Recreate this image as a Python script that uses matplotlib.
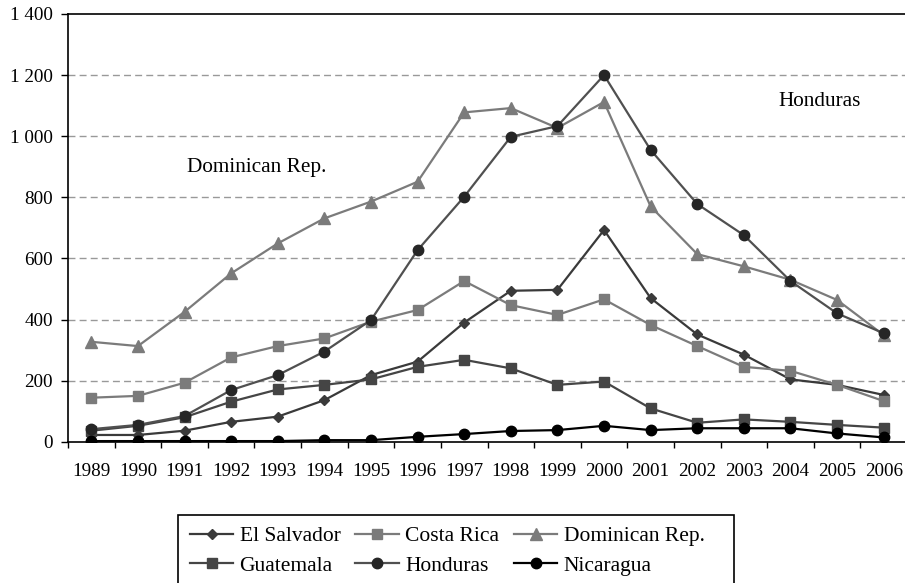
import matplotlib
matplotlib.use("Agg")
import matplotlib.pyplot as plt
from matplotlib.patches import Rectangle
from matplotlib.ticker import FuncFormatter, FixedLocator

years = [str(y) for y in range(1989, 2007)]

el_salvador = [22, 22, 36, 65, 82, 136, 218, 262, 390, 494, 497, 693, 470, 351, 285, 204, 186, 153]
costa_rica = [144, 150, 193, 276, 313, 338, 393, 431, 526, 447, 415, 466, 382, 313, 245, 232, 186, 133]
dominican = [327, 313, 425, 551, 649, 731, 786, 851, 1078, 1092, 1027, 1112, 770, 614, 574, 530, 464, 349]
guatemala = [36, 52, 80, 131, 171, 186, 204, 245, 268, 240, 186, 197, 109, 62, 73, 65, 55, 46]
honduras = [41, 55, 84, 169, 218, 295, 398, 627, 802, 998, 1033, 1200, 955, 778, 676, 526, 420, 355]
nicaragua = [2, 2, 2, 2, 2, 5, 5, 16, 25, 35, 38, 52, 38, 44, 44, 44, 27, 14]

plt.rcParams['font.family'] = ['Liberation Serif', 'DejaVu Serif']
plt.rcParams['font.size'] = 13.8

W, H = 905, 583
fig = plt.figure(figsize=(W / 100, H / 100), dpi=100)
ax = fig.add_axes([68 / W, 141.3 / H, 839 / W, 427.7 / H])

x = list(range(len(years)))
lw = 1.6
l_es, = ax.plot(x, el_salvador, color='#3a3a3a', lw=lw, marker='D', ms=5, label='El Salvador', zorder=3)
l_cr, = ax.plot(x, costa_rica, color='#7b7b7b', lw=lw, marker='s', ms=7.5, label='Costa Rica', zorder=3)
l_dr, = ax.plot(x, dominican, color='#7b7b7b', lw=lw, marker='^', ms=8, label='Dominican Rep.', zorder=3)
l_gu, = ax.plot(x, guatemala, color='#454545', lw=lw, marker='s', ms=7.5, label='Guatemala', zorder=3)
l_ho, = ax.plot(x, honduras, color='#505050', lw=lw, marker='o', ms=7.5, mfc='#262626', mec='#262626', label='Honduras', zorder=3)
l_ni, = ax.plot(x, nicaragua, color='black', lw=lw, marker='o', ms=7.5, label='Nicaragua', zorder=4)

ax.set_xlim(-0.5, len(years) - 0.5)
ax.set_ylim(0, 1400)
ax.set_xticks(x)
ax.set_xticklabels(years)
ax.xaxis.set_minor_locator(FixedLocator([i - 0.5 for i in range(len(years) + 1)]))
ax.tick_params(axis='x', which='major', length=0, pad=15.5)
ax.tick_params(axis='x', which='minor', length=4, width=1, direction='out')
ax.set_yticks(range(0, 1401, 200))
ax.yaxis.set_major_formatter(FuncFormatter(lambda v, p: f"{int(v):,}".replace(',', ' ')))
ax.tick_params(axis='y', length=5, width=1, pad=6)

for v in range(200, 1400, 200):
    ax.axhline(v, color='#999999', lw=1, ls=(0, (5, 3)), zorder=1)

for s in ['left', 'bottom', 'top']:
    ax.spines[s].set_linewidth(1.2)
ax.spines['right'].set_visible(False)

ax.text(3.55, 897, 'Dominican Rep.', ha='center', va='center', fontsize=15.3)
ax.text(15.63, 1115, 'Honduras', ha='center', va='center', fontsize=15.3)

# legend: entries without frame, box drawn separately (wider than content)
handles = [l_es, l_gu, l_cr, l_ho, l_dr, l_ni]
leg = fig.legend(handles, [h.get_label() for h in handles], ncol=3,
                 loc='upper left', bbox_to_anchor=(190 / W, 1 - 526 / H),
                 frameon=False, borderaxespad=0, borderpad=0,
                 handlelength=2.0, columnspacing=0.7,
                 handletextpad=0.3, labelspacing=0.45, fontsize=15.5)
fig.patches.append(Rectangle((177.7 / W, 1 - 592 / H), (734 - 177.7) / W, (592 - 514.6) / H,
                             transform=fig.transFigure, fill=False, edgecolor='black', lw=1.2))

fig.savefig('out.png', dpi=100)
